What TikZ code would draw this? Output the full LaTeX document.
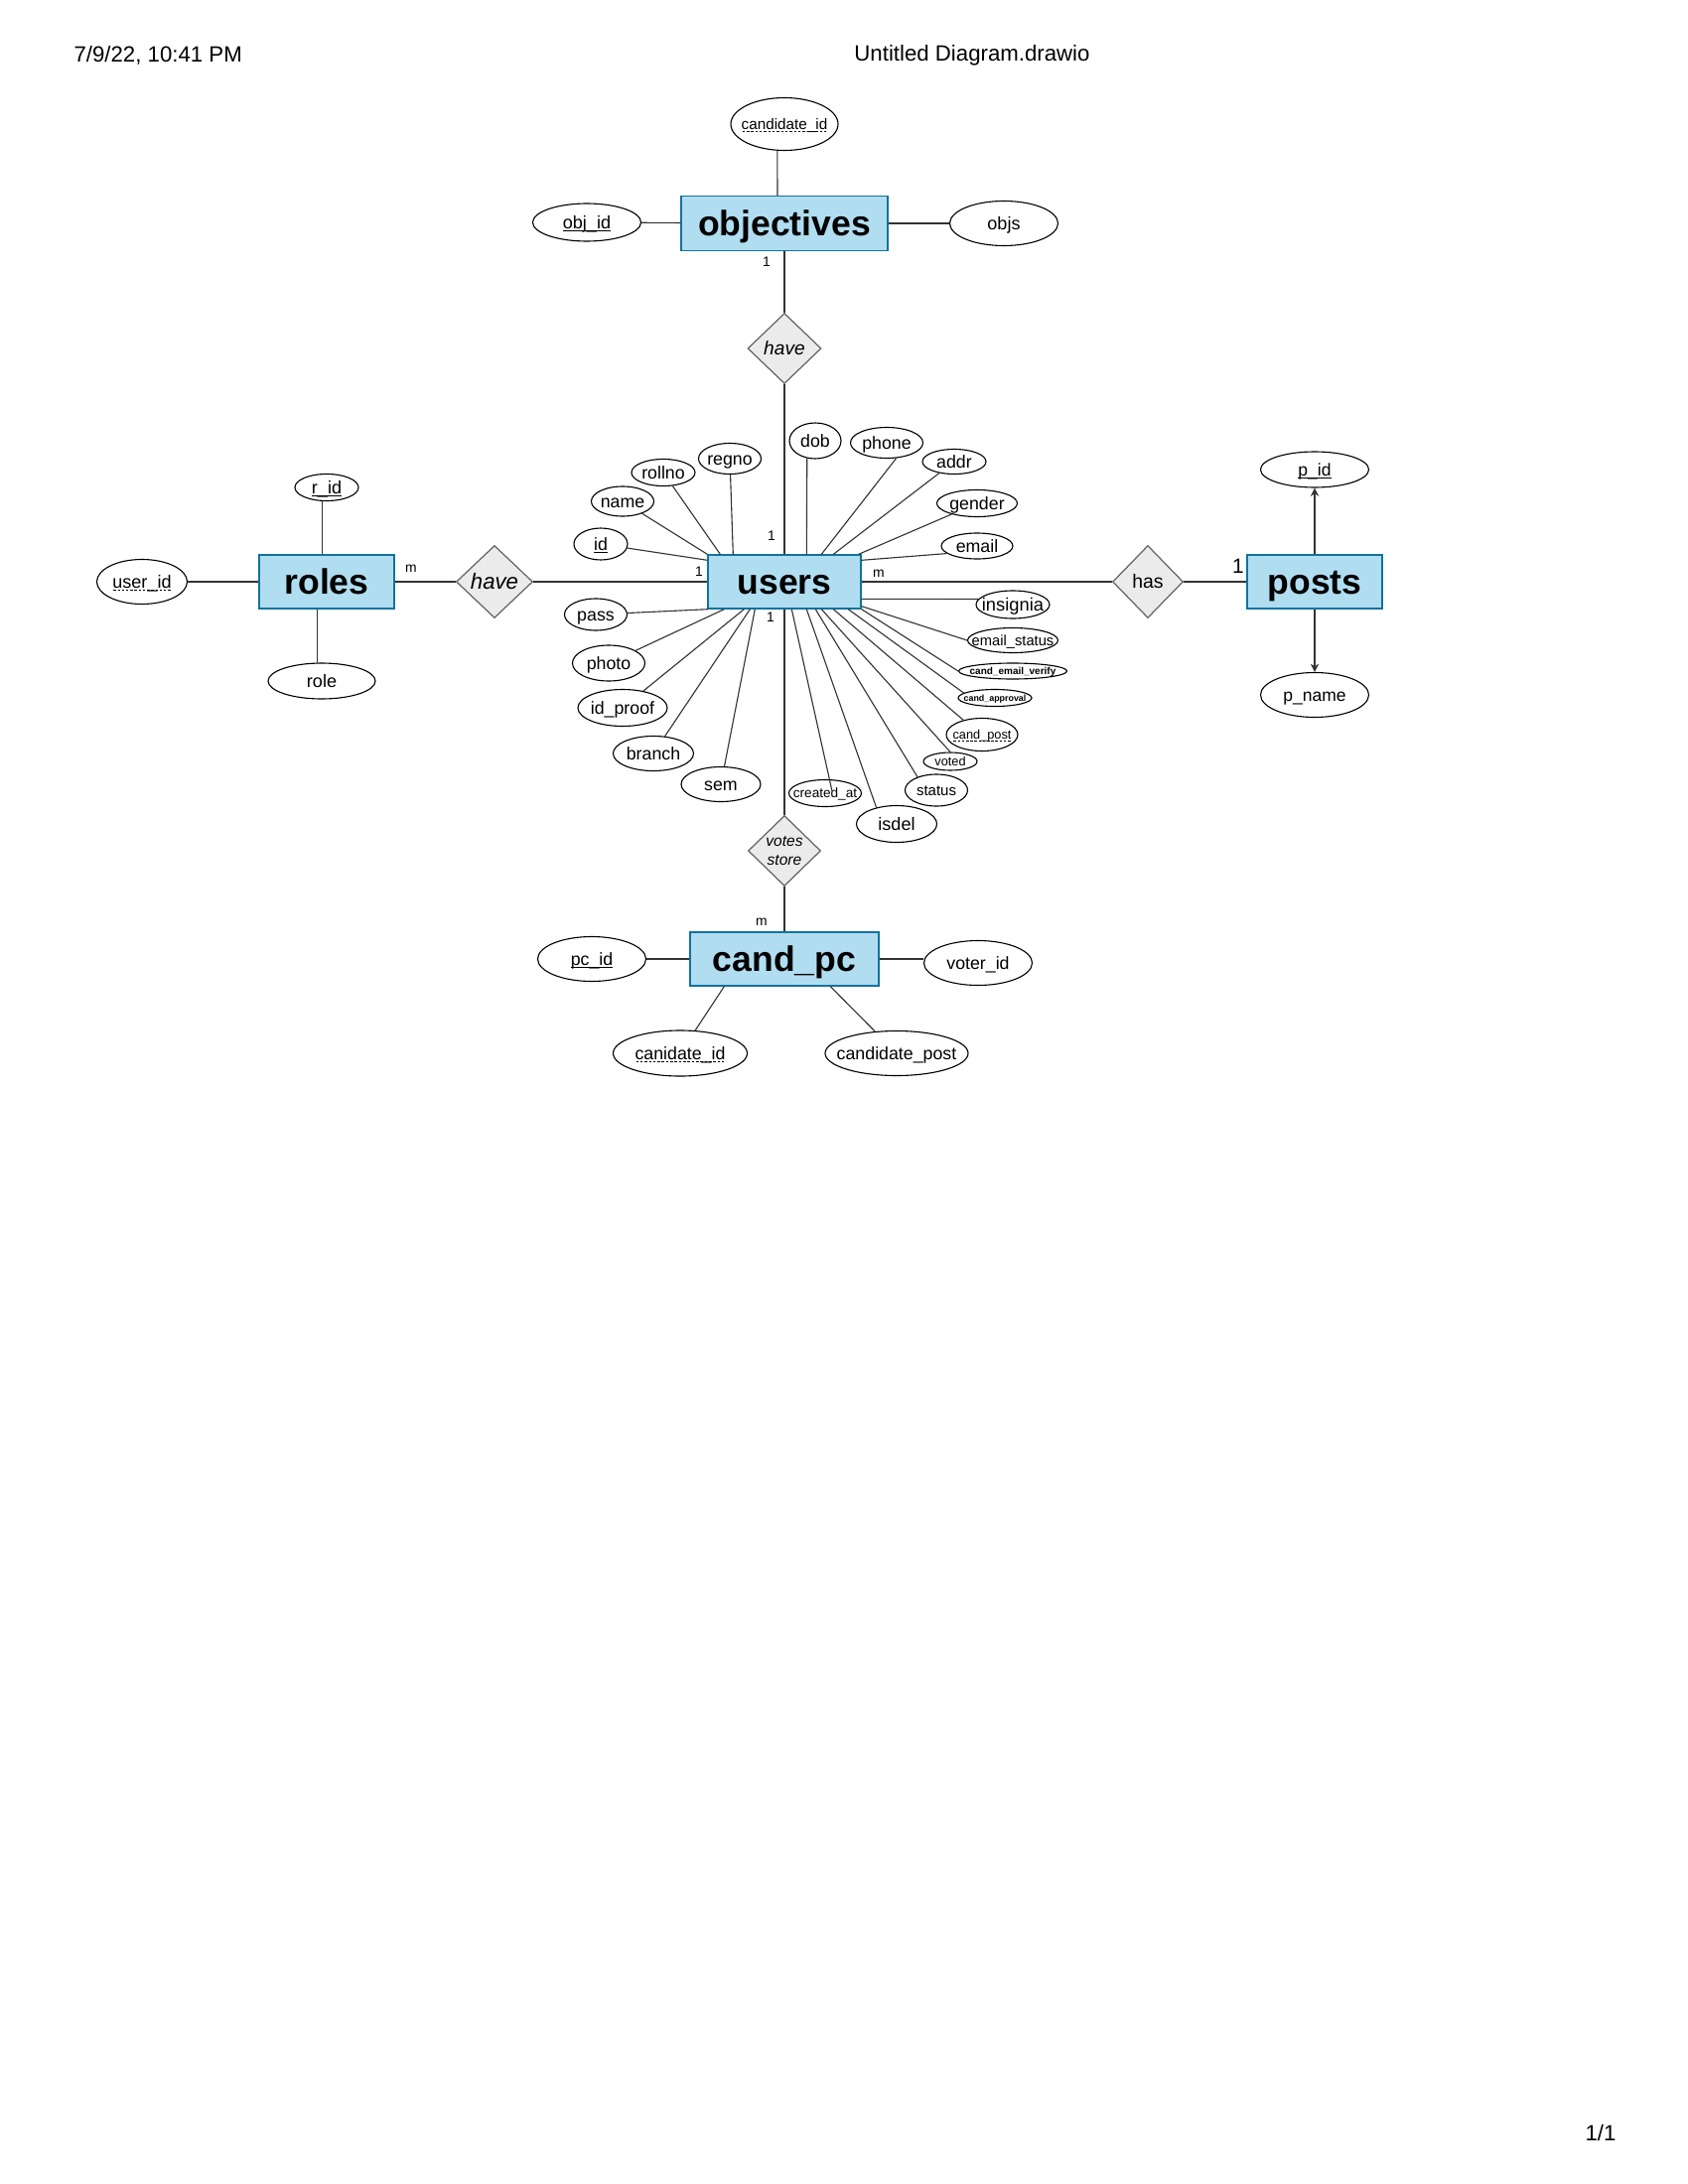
\documentclass[tikz,border=0pt]{standalone}
\usepackage{fontspec}
\setmainfont{Liberation Sans}
\usetikzlibrary{shapes.geometric,arrows.meta,calc}

\definecolor{entfill}{HTML}{B1DDF0}
\definecolor{entline}{HTML}{10739E}
\definecolor{relfill}{HTML}{EBEBEB}
\definecolor{relline}{HTML}{666666}
\definecolor{wire}{HTML}{333333}

% key attributes: solid underline; foreign keys: dashed underline
\newcommand{\solidund}[1]{\setbox0=\hbox{#1}\rlap{\vrule height-0.6pt depth0.9pt width\wd0}\box0}
\newcommand{\dashund}[1]{\setbox0=\hbox{#1}\rlap{\hbox to\wd0{\xleaders\hbox{\kern0.3pt\vrule height-0.6pt depth0.9pt width0.9pt\kern0.3pt}\hfill}}\box0}

\tikzset{
  sz/.style 2 args={minimum width=#1*0.36pt, minimum height=#2*0.36pt},
  % fixed line box so that every text sits on the same baseline
  linebox/.style={execute at begin node={\vrule width0pt height0.905em depth0.212em\relax}},
  entity/.style={rectangle, draw=entline, fill=entfill, line width=0.5pt, inner sep=0pt,
    font=\bfseries\fontsize{12.8}{14}\selectfont, linebox},
  attr/.style={ellipse, draw=black, fill=white, line width=0.4pt, inner sep=0pt},
  alab/.style={inner sep=0pt, font=\fontsize{6.4}{7}\selectfont, linebox},
  rel/.style={diamond, draw=relline, fill=relfill, line width=0.45pt, inner sep=0pt, align=center},
  link/.style={draw=wire, line width=0.4pt},
  card/.style={inner sep=0pt, font=\fontsize{5}{6}\selectfont},
  pagetext/.style={inner sep=0pt, font=\fontsize{8}{9}\selectfont},
  tip/.style={-{Stealth[length=3pt,width=3pt]}}
}

\begin{document}
\begin{tikzpicture}[x=0.36pt, y=-0.36pt]
\fill[white] (0,0) rectangle (1700,2200);
\useasboundingbox (0,0) rectangle (1700,2200);

% page header and footer
\node[pagetext, anchor=west] (date) at (74,56) {7/9/22, 10:41 PM};
\node[pagetext] (title) at (979,56) {Untitled Diagram.drawio};
\node[pagetext, anchor=east] (pageno) at (1628,2149) {1/1};

% entities
\node[entity, sz={208}{55}] (obj) at (790,225) {objectives};
\node[entity, sz={136}{54}] (roles) at (329,586) {roles};
\node[entity, sz={154}{54}] (users) at (790,586) {users};
\node[entity, sz={136}{54}] (posts) at (1324,586) {posts};
\node[entity, sz={190}{54}] (cpc) at (790,966) {cand\_pc};

% relationships
\node[rel, linebox, sz={74}{71}, font=\itshape\fontsize{6.9}{8}\selectfont] (havetop) at (790,351) {have};
\node[rel, linebox, sz={77}{73}, font=\itshape\fontsize{8}{9}\selectfont] (haverole) at (498,586) {have};
\node[rel, linebox, sz={71}{73}, font=\fontsize{7}{8}\selectfont] (has) at (1156,586) {has};
\node[rel, sz={73}{71}, font=\itshape\fontsize{5.6}{6.9}\selectfont] (votes) at (790,857) {votes\\store};

% attributes of objectives
\node[attr, sz={108}{53}, label={[alab,font=\fontsize{5.5}{6}\selectfont]center:\dashund{candidate\_id}}] (ocand) at (790,125) {};
\node[attr, sz={109}{38}, label={[alab,font=\fontsize{6.5}{7}\selectfont]center:\solidund{obj\_id}}] (objid) at (591,224) {};
\node[attr, sz={109}{45}, label={[alab,font=\fontsize{6.5}{7}\selectfont]center:objs}] (objs) at (1011,225) {};

% attributes of roles
\node[attr, sz={64}{27}, label={[alab,font=\fontsize{6.5}{7}\selectfont]center:\solidund{r\_id}}] (rid) at (329,491) {};
\node[attr, sz={91}{45}, label={[alab,font=\fontsize{6.5}{7}\selectfont]center:\dashund{user\_id}}] (uid) at (143,586) {};
\node[attr, sz={108}{36}, label={[alab,font=\fontsize{6.5}{7}\selectfont]center:role}] (role) at (324,686) {};

% attributes of users
\node[attr, sz={54}{32}, label={[alab]center:\solidund{id}}] (id) at (605,548) {};
\node[attr, sz={63}{30}, label={[alab]center:name}] (name) at (627,505) {};
\node[attr, sz={64}{27}, label={[alab]center:rollno}] (rollno) at (668,476) {};
\node[attr, sz={63}{31}, label={[alab]center:regno}] (regno) at (735,462) {};
\node[attr, sz={52}{36}, label={[alab]center:dob}] (dob) at (821,444) {};
\node[attr, sz={73}{31}, label={[alab]center:phone}] (phone) at (893,446) {};
\node[attr, sz={64}{25}, label={[alab]center:addr}] (addr) at (961,465) {};
\node[attr, sz={81}{27}, label={[alab]center:gender}] (gender) at (984,507) {};
\node[attr, sz={72}{26}, label={[alab]center:email}] (email) at (984,550) {};
\node[attr, sz={74}{28}, label={[alab,font=\fontsize{6.6}{7}\selectfont]center:insignia}] (insignia) at (1020,609) {};
\node[attr, sz={91}{25}, label={[alab,font=\fontsize{5.3}{6}\selectfont]center:email\_status}] (estatus) at (1020,645) {};
\node[attr, sz={109}{16}, label={[alab,font=\bfseries\fontsize{3.6}{4}\selectfont]center:cand\_email\_verify}] (cev) at (1020,676) {};
\node[attr, sz={74}{17}, label={[alab,font=\bfseries\fontsize{3.2}{4}\selectfont]center:cand\_approval}] (capp) at (1002,703) {};
\node[attr, sz={72}{33}, label={[alab,font=\fontsize{4.6}{5}\selectfont]center:\dashund{cand\_post}}] (cpost) at (989,740) {};
\node[attr, sz={54}{18}, label={[alab,font=\fontsize{4.6}{5}\selectfont]center:voted}] (voted) at (957,767) {};
\node[attr, sz={63}{32}, label={[alab,font=\fontsize{5.4}{6}\selectfont]center:status}] (status) at (943,796) {};
\node[attr, sz={81}{37}, label={[alab,font=\fontsize{6.5}{7}\selectfont]center:isdel}] (isdel) at (903,830) {};
\node[attr, sz={73}{27}, label={[alab,font=\fontsize{4.9}{5}\selectfont]center:created\_at}] (created) at (831,799) {};
\node[attr, sz={80}{35}, label={[alab]center:sem}] (sem) at (726,790) {};
\node[attr, sz={81}{35}, label={[alab]center:branch}] (branch) at (658,759) {};
\node[attr, sz={90}{37}, label={[alab]center:id\_proof}] (idproof) at (627,713) {};
\node[attr, sz={73}{36}, label={[alab]center:photo}] (photo) at (613,668) {};
\node[attr, sz={63}{32}, label={[alab]center:pass}] (pass) at (600,619) {};

% attributes of posts
\node[attr, sz={109}{36}, label={[alab,font=\fontsize{6.3}{7}\selectfont]center:\solidund{p\_id}}] (pid) at (1324,473) {};
\node[attr, sz={109}{45}, label={[alab,font=\fontsize{6.3}{7}\selectfont]center:p\_name}] (pname) at (1324,700) {};

% attributes of cand_pc
\node[attr, sz={109}{45}, label={[alab]center:\solidund{pc\_id}}] (pcid) at (596,966) {};
\node[attr, sz={109}{45}, label={[alab]center:voter\_id}] (voter) at (985,970) {};
\node[attr, sz={135}{46}, label={[alab]center:\dashund{canidate\_id}}] (canid) at (685,1061) {};
\node[attr, sz={144}{45}, label={[alab]center:candidate\_post}] (cpostc) at (903,1061) {};

% relationship connectors
\draw[link] (obj) -- (havetop);
\draw[link] (havetop) -- (users);
\draw[link] (roles) -- (haverole);
\draw[link] (haverole) -- (users);
\draw[link] (users) -- (has);
\draw[link] (has) -- (posts);
\draw[link] (users) -- (votes);
\draw[link] (votes) -- (cpc);

% objectives attribute connectors
\draw[link] (ocand.255) -- ($(obj.north)+(-7,0)$);
\draw[link] (objid) -- (obj);
\draw[link] (obj) -- (objs);

% roles attribute connectors
\draw[link] (rid.253) -- (rid.253 |- roles.north);
\draw[link] (uid) -- (roles);
\draw[link] (role.103) -- (role.103 |- roles.south);

% users attribute connectors
\draw[link] (id) -- ($(users.north west)+(0,6)$);
\draw[link] (name) -- (users.north west);
\draw[link] (rollno) -- ($(users.north west)+(13,0)$);
\draw[link] (regno) -- ($(users.north west)+(26,0)$);
\draw[link] (dob.245) -- ($(users.north west)+(100,0)$);
\draw[link] (phone.-58) -- ($(users.north west)+(115,0)$);
\draw[link] (addr) -- ($(users.north west)+(127,0)$);
\draw[link] (gender) -- ($(users.north east)+(-3,0)$);
\draw[link] (email.194) -- ($(users.north east)+(0,6)$);
\draw[link] (insignia.171) -- ($(users.north east)+(0,45)$);
\draw[link] (estatus.west) -- ($(users.south east)+(0,-3)$);
\draw[link] (cev.west) -- (users.south east);
\draw[link] (capp.171) -- ($(users.south west)+(142,0)$);
\draw[link] (cpost.142) -- ($(users.south west)+(127,0)$);
\draw[link] (voted.north) -- ($(users.south west)+(115,0)$);
\draw[link] (status.145) -- ($(users.south west)+(109,0)$);
\draw[link] (isdel.141) -- ($(users.south west)+(100,0)$);
\draw[link] ($(created.center)+(7,-2)$) -- ($(users.south west)+(85,0)$);
\draw[link] (sem) -- ($(users.south west)+(48,0)$);
\draw[link] (branch) -- ($(users.south west)+(43,0)$);
\draw[link] (idproof) -- ($(users.south west)+(37,0)$);
\draw[link] (photo) -- ($(users.south west)+(17,0)$);
\draw[link] (pass) -- ($(users.south west)+(1,0)$);

% posts attribute connectors
\draw[link, tip] (posts.north) -- (pid.south);
\draw[link, tip] (posts.south) -- (pname.north);

% cand_pc attribute connectors
\draw[link] (pcid) -- (cpc);
\draw[link] (cpc.east) -- (cpc.east -| voter.west);
\draw[link] (canid) -- ($(cpc.south west)+(35,0)$);
\draw[link] (cpostc) -- ($(cpc.south west)+(142,0)$);

% cardinalities
\node[card] (k1) at (772,264) {1};
\node[card] (k2) at (777,540) {1};
\node[card] (k3) at (704,576) {1};
\node[card] (k4) at (885,578) {m};
\node[card] (k5) at (776,622) {1};
\node[card] (k6) at (414,573) {m};
\node[card, font=\fontsize{7.5}{8}\selectfont] (k7) at (1247,570) {1};
\node[card] (k8) at (767,929) {m};
\end{tikzpicture}
\end{document}
